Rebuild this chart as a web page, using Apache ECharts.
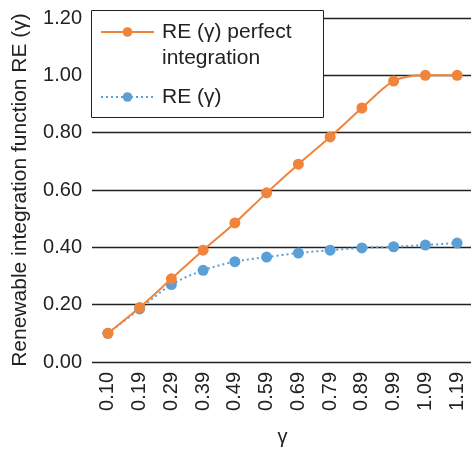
<!DOCTYPE html>
<html>
<head>
<meta charset="utf-8">
<script src="https://cdn.jsdelivr.net/npm/echarts@6/dist/echarts.min.js"></script>
<style>
  html, body { margin: 0; padding: 0; background: #fff; }
  #chart { width: 471px; height: 449px; }
</style>
</head>
<body>
<div id="chart"></div>
<script>
const gammas = ['0.10', '0.19', '0.29', '0.39', '0.49', '0.59', '0.69', '0.79', '0.89', '0.99', '1.09', '1.19']
const rePerfect = [0.10, 0.19, 0.29, 0.39, 0.485, 0.59, 0.69, 0.785, 0.886, 0.98, 1.0, 1.0]
const reActual = [0.10, 0.185, 0.27, 0.32, 0.35, 0.366, 0.38, 0.39, 0.398, 0.402, 0.408, 0.415]

const font = 'Liberation Sans, Arial, sans-serif'
const orange = '#f0843a'
const blue = '#5a9fd6'
const ink = '#222'

// the blank first line keeps the icon beside the first text line
const perfectName = '\u200b\nRE (γ) perfect\nintegration'

const chart = echarts.init(document.getElementById('chart'))
chart.setOption({
  animation: false,
  grid: { left: 92, right: -2, top: 18, bottom: 87, outerBoundsMode: 'none' },
  graphic: [{
    type: 'rect',
    left: 91,
    top: 10,
    z: 100,
    shape: { width: 232, height: 107 },
    style: { fill: '#fff', stroke: ink, lineWidth: 1 }
  }],
  legend: {
    orient: 'vertical',
    left: 100,
    top: -7,
    padding: 0,
    z: 101,
    itemWidth: 53,
    itemHeight: 12,
    itemGap: 13,
    textStyle: { fontFamily: font, fontSize: 21, color: ink, lineHeight: 26, padding: [0, 0, 0, 3] },
    data: [perfectName, 'RE (γ)']
  },
  xAxis: {
    type: 'category',
    data: gammas,
    name: 'γ',
    nameLocation: 'middle',
    nameGap: 65,
    nameTextStyle: { fontFamily: font, fontSize: 20, color: ink },
    axisLine: { show: false },
    axisTick: { show: false },
    axisLabel: { rotate: 90, fontFamily: font, fontSize: 20, color: ink, margin: 10 }
  },
  yAxis: {
    type: 'value',
    min: 0,
    max: 1.2,
    interval: 0.2,
    name: 'Renewable integration function RE (γ)',
    nameLocation: 'middle',
    nameGap: 61,
    nameTextStyle: { fontFamily: font, fontSize: 21, color: ink },
    axisLine: { show: false },
    axisTick: { show: false },
    splitLine: { lineStyle: { color: ink, width: 1.3 } },
    axisLabel: {
      fontFamily: font, fontSize: 20, color: ink, margin: 10,
      formatter: v => v.toFixed(2)
    }
  },
  series: [
    {
      name: perfectName,
      type: 'line',
      data: rePerfect,
      smooth: 0.3,
      symbol: 'circle',
      symbolSize: 11,
      itemStyle: { color: orange },
      lineStyle: { color: orange, width: 2 },
      z: 3
    },
    {
      name: 'RE (γ)',
      type: 'line',
      data: reActual,
      smooth: 0.3,
      symbol: 'circle',
      symbolSize: 11,
      itemStyle: { color: blue },
      lineStyle: { color: blue, width: 2, type: [2, 3] },
      z: 2
    }
  ]
})
</script>
</body>
</html>
